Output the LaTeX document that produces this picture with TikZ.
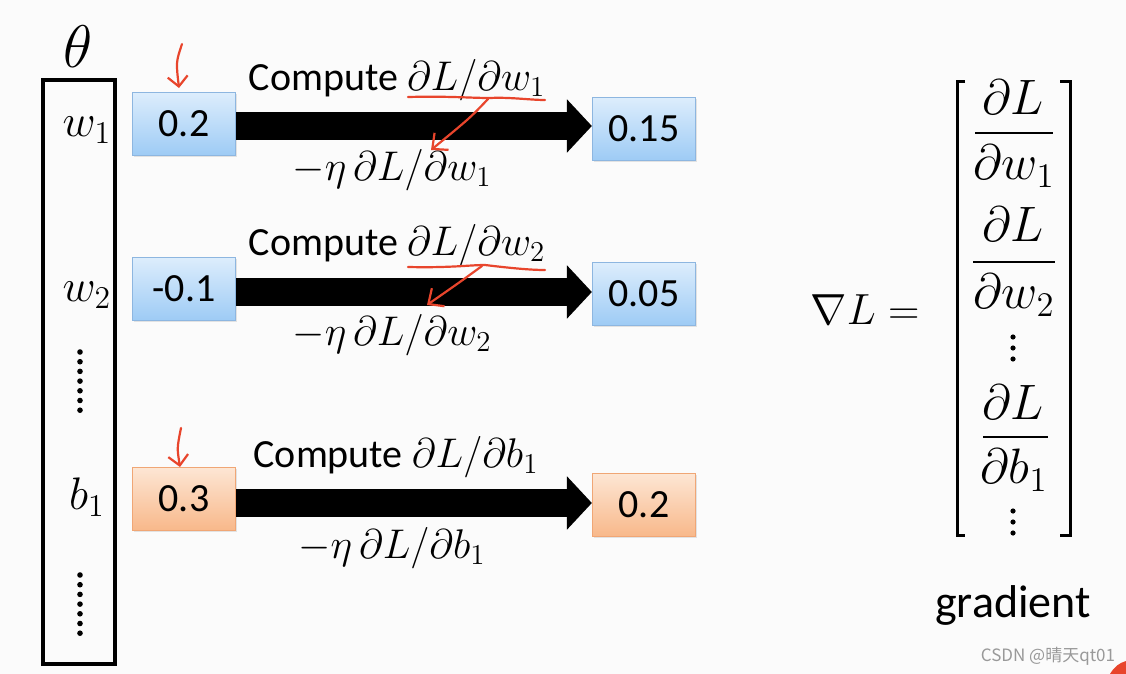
\documentclass[tikz,border=0pt]{standalone}
\usepackage{fontspec}
\setmainfont{Carlito}
\newfontfamily\cjk{Noto Sans CJK SC}
\usetikzlibrary{arrows.meta,shadows}
\definecolor{bluetop}{HTML}{DDEDFC}
\definecolor{bluebot}{HTML}{9DCBF5}
\definecolor{blueline}{HTML}{8DB6E0}
\definecolor{orgtop}{HTML}{FDE6D4}
\definecolor{orgbot}{HTML}{F8B88A}
\definecolor{orgline}{HTML}{F0A675}
\definecolor{ann}{HTML}{E8452C}
\definecolor{bg}{HTML}{FBFBFB}
\newcommand{\bigmath}[1]{\scalebox{1.2}{$#1$}}
\begin{document}
\begin{tikzpicture}[x=0.5pt,y=-0.5pt,
  lab/.style={font=\fontsize{20}{24}\selectfont, inner sep=0pt},
  valbox/.style={minimum width=51.5pt, minimum height=31.5pt, inner sep=0pt,
    font=\fontsize{20}{24}\selectfont,
    drop shadow={opacity=0.2, shadow xshift=0.8pt, shadow yshift=-0.8pt}},
  bluebox/.style={valbox, draw=blueline, line width=0.6pt, top color=bluetop, bottom color=bluebot},
  orgbox/.style={valbox, draw=orgline, line width=0.6pt, top color=orgtop, bottom color=orgbot},
  bigarrow/.style={line width=14pt, -{Triangle[width=26pt,length=12.5pt]}},
  annot/.style={ann, line width=1.1pt, line cap=round, line join=round},
  frac/.style={font=\fontsize{20}{24}\selectfont, inner sep=0pt},
  dotfill/.style={fill=black}]
% background / bounding box
\fill[bg] (0,0) rectangle (1126,674);
% theta column
\node[lab] (theta) at (78,47) {\scalebox{1.45}{$\theta$}};
\node[draw, line width=2pt, minimum width=36pt, minimum height=292pt, inner sep=0pt] (col) at (79,372) {};
\node[lab] (lw1) at (87,130) {\scalebox{1.1}{$w_1$}};
\node[lab] (lw2) at (87,295) {\scalebox{1.1}{$w_2$}};
\node[lab] (lb1) at (87,497) {\scalebox{1.1}{$b_1$}};
\foreach \i in {0,...,6} {
  \fill[dotfill] ({80},{352+\i*9.7}) circle (1.4pt);
  \fill[dotfill] ({80},{575+\i*9.7}) circle (1.4pt);
}
% value boxes
\node[bluebox] (a1) at (184,124) {0.2};
\node[bluebox] (a2) at (184,289) {-0.1};
\node[orgbox]  (a3) at (184,499) {0.3};
\node[bluebox] (c1) at (644,129) {0.15};
\node[bluebox] (c2) at (644,294) {0.05};
\node[orgbox]  (c3) at (644,505) {0.2};
% arrows
\draw[bigarrow] (a1.east |- 0,126) -- (c1.west |- 0,126);
\draw[bigarrow] (a2.east |- 0,292) -- (c2.west |- 0,292);
\draw[bigarrow] (a3.east |- 0,503) -- (c3.west |- 0,503);
% labels
\node[lab] (t1) at (397,80) {Compute $\partial L/\partial w_1$};
\node[lab] (u1) at (392,170) {$-\eta\,\partial L/\partial w_1$};
\node[lab] (t2) at (397,245) {Compute $\partial L/\partial w_2$};
\node[lab] (u2) at (392,335) {$-\eta\,\partial L/\partial w_2$};
\node[lab] (t3) at (396,457) {Compute $\partial L/\partial b_1$};
\node[lab] (u3) at (392,548) {$-\eta\,\partial L/\partial b_1$};
% gradient vector
\node[frac] (nab) at (865,310) {\scalebox{1.05}{$\nabla L =$}};
\draw[line width=1.5pt] (965,82) -- (957,82) -- (957,535) -- (965,535);
\draw[line width=1.5pt] (1060,82) -- (1070,82) -- (1070,535) -- (1060,535);
\node[frac] (n1) at (1013,97) {\bigmath{\partial L}};
\draw[line width=1.3pt] (975,133) -- (1053,133);
\node[frac] (d1) at (1014,166) {\bigmath{\partial w_1}};
\node[frac] (n2) at (1013,224) {\bigmath{\partial L}};
\draw[line width=1.3pt] (973,262) -- (1055,262);
\node[frac] (d2) at (1014,295) {\bigmath{\partial w_2}};
\foreach \y in {337,348,359} \fill (1013,\y) circle (1.3pt);
\node[frac] (n3) at (1013,402) {\bigmath{\partial L}};
\draw[line width=1.3pt] (983,437) -- (1048,437);
\node[frac] (d3) at (1014,470) {\bigmath{\partial b_1}};
\foreach \y in {511,522,533} \fill (1013,\y) circle (1.3pt);
\node[lab, font=\fontsize{23}{27}\selectfont] (grad) at (1013,605) {gradient};
% red annotations
\draw[annot, -{Straight Barb[length=5pt,width=10pt]}] (182,44) .. controls (176,62) .. (179,88);
\draw[annot, -{Straight Barb[length=5pt,width=10pt]}] (181,428) .. controls (177,448) .. (180,467);
\draw[annot] (408,97) .. controls (450,96) and (470,98) .. (490,98) .. controls (510,97) and (530,100) .. (545,100);
\draw[annot, -{Straight Barb[length=6pt,width=11pt]}] (488,99) .. controls (470,118) .. (431,150);
\draw[annot] (408,267) .. controls (450,268) and (470,265) .. (485,265) .. controls (510,268) and (530,270) .. (545,270);
\draw[annot, -{Straight Barb[length=6pt,width=11pt]}] (482,266) .. controls (460,282) .. (427,305);
% watermark
\node[font=\cjk\fontsize{8.5}{10}\selectfont, text=black!40, inner sep=0pt] (wm) at (1048,656) {CSDN @晴天qt01};
\fill[ann] (1110,674) .. controls (1114,667) and (1119,663) .. (1126,661) -- (1126,674) -- cycle;
\end{tikzpicture}
\end{document}
